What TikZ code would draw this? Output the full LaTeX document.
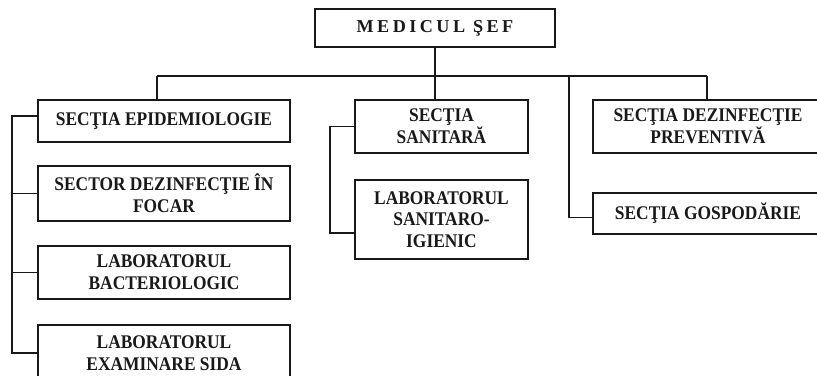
\documentclass[tikz,border=0pt]{standalone}
\usepackage{fontspec}
\setmainfont[FakeStretch=0.9]{Liberation Serif}
\newfontfamily\spacedfont[LetterSpace=19]{Liberation Serif}
\usepackage{tikz}
\usetikzlibrary{calc,positioning}
\definecolor{inkline}{RGB}{25,25,25}

\tikzset{
  unitbox/.style={draw=inkline,line width=1.4pt,fill=white,align=center,
    font=\fontsize{16.5}{18.5}\selectfont\bfseries,inner sep=2pt,text=inkline},
  link/.style={draw=inkline,line width=1.4pt},
}

\begin{document}
\begin{tikzpicture}[x=0.03cm,y=-0.03cm]
    \useasboundingbox (0,0) rectangle (817,376);
    \node[unitbox,minimum width=240*0.03cm,minimum height=38*0.03cm,font=\fontsize{15.5}{17}\spacedfont\bfseries] (sef) at (435,28) {MEDICUL ŞEF};
    % left column
    \node[unitbox,minimum width=252*0.03cm,minimum height=42*0.03cm] (epid) at (164,121) {SECŢIA EPIDEMIOLOGIE};
    \node[unitbox,minimum width=252*0.03cm,minimum height=55*0.03cm] (sector) at (164,193.5) {SECTOR DEZINFECŢIE ÎN\\FOCAR};
    \node[unitbox,minimum width=252*0.03cm,minimum height=53*0.03cm] (bact) at (164,272.5) {LABORATORUL\\BACTERIOLOGIC};
    \node[unitbox,minimum width=252*0.03cm,minimum height=56*0.03cm] (sida) at (164,353) {LABORATORUL\\EXAMINARE SIDA};
    % middle column
    \node[unitbox,minimum width=173*0.03cm,minimum height=53*0.03cm] (sanit) at (441.5,126.5) {SECŢIA\\SANITARĂ};
    \node[unitbox,minimum width=173*0.03cm,minimum height=79*0.03cm] (labsan) at (441.5,219.5) {LABORATORUL\\SANITARO-\\IGIENIC};
    % right column
    \node[unitbox,minimum width=230*0.03cm,minimum height=53*0.03cm] (prev) at (708,126.5) {SECŢIA DEZINFECŢIE\\PREVENTIVĂ};
    \node[unitbox,minimum width=230*0.03cm,minimum height=41*0.03cm] (gosp) at (708,213.5) {SECŢIA GOSPODĂRIE};

    \coordinate (bus) at (435,76);
    \coordinate (epidtop) at (157,76);
    \coordinate (gosptop) at (569,76);
    \coordinate (prevtop) at (707,76);
    \coordinate (lrail) at (12,0);
    \coordinate (mrail) at (330,0);

    \draw[link] (sef.south) -- (bus);
    \draw[link] (epidtop) -- (prevtop);
    \draw[link] (epidtop) -- (epidtop |- epid.north);
    \draw[link] (bus) -- (bus |- sanit.north);
    \draw[link] (prevtop) -- (prevtop |- prev.north);
    \draw[link] (gosptop) |- ($(gosp.west)+(0,4)$);
    % left bracket
    \draw[link] ($(epid.west)+(0,-5)$) -| (lrail |- sida.west) -- (sida.west);
    \draw[link] (lrail |- sector.west) -- (sector.west);
    \draw[link] (lrail |- bact.west) -- (bact.west);
    % middle bracket
    \draw[link] (sanit.west) -| (mrail |- 0,233) -- (labsan.west |- 0,233);
  \end{tikzpicture}
\end{document}
